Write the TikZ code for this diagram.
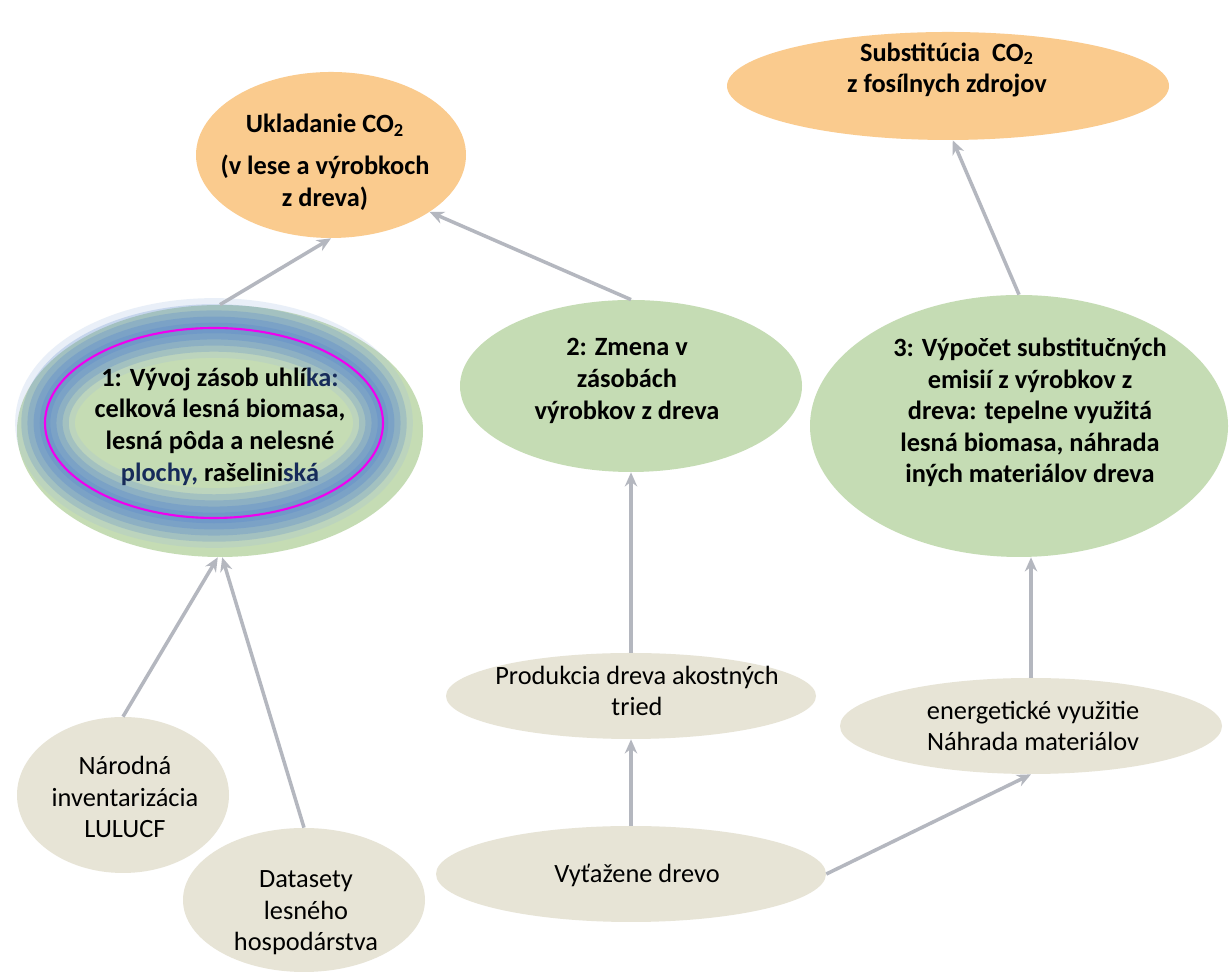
\documentclass[tikz,border=0pt]{standalone}
\usepackage{fontspec}
\setmainfont{Carlito}
\usepackage{xcolor}
\usepackage{tikz}
\usetikzlibrary{shapes.geometric,arrows.meta}
\definecolor{storeorange}{RGB}{250,203,142}
\definecolor{stockgreen}{RGB}{197,220,180}
\definecolor{sourcebeige}{RGB}{231,228,214}
\definecolor{linkgray}{RGB}{180,183,191}
\definecolor{glowblue}{RGB}{92,138,204}
\definecolor{ringmagenta}{RGB}{240,0,240}
\definecolor{navyink}{RGB}{23,43,90}

\begin{document}
\begin{tikzpicture}[
  blob/.style={ellipse, inner sep=0pt},
  title/.style={align=center, text=black, font=\fontsize{15}{18}\selectfont\bfseries},
  plain/.style={align=center, text=black, font=\fontsize{15}{18}\selectfont},
  link/.style={draw=linkgray, line width=2pt, -{Stealth[length=8pt,width=7pt]}}
]
  \fill[white] (0,0) rectangle (24.6,19.42);
  \node[blob, fill=storeorange, minimum width=5.4cm, minimum height=3.32cm] (store) at (6.62,16.32) {};
  \node[blob, fill=storeorange, minimum width=8.84cm, minimum height=2.16cm] (subst) at (18.96,17.70) {};
  \node[blob, fill=stockgreen, minimum width=8.12cm, minimum height=5.04cm] (carbon) at (4.40,10.80) {};
  \node[blob, fill=stockgreen, minimum width=6.84cm, minimum height=3.44cm] (stock) at (12.62,11.70) {};
  \node[blob, fill=stockgreen, minimum width=8.36cm, minimum height=5.24cm] (calc) at (20.38,10.90) {};
  \node[blob, fill=sourcebeige, minimum width=4.24cm, minimum height=3.12cm] (nfi) at (2.46,3.52) {};
  \node[blob, fill=sourcebeige, minimum width=4.84cm, minimum height=2.88cm] (data) at (6.08,1.42) {};
  \node[blob, fill=sourcebeige, minimum width=7.8cm, minimum height=1.92cm] (harvest) at (12.62,1.94) {};
  \node[blob, fill=sourcebeige, minimum width=7.4cm, minimum height=1.72cm] (prod) at (12.62,5.50) {};
  \node[blob, fill=sourcebeige, minimum width=7.64cm, minimum height=1.92cm] (energy) at (20.62,4.90) {};
  \draw[glowblue!60, line width=34pt, opacity=0.22] (4.28,10.96) ellipse [x radius=3.38cm, y radius=1.9cm];
  \draw[glowblue, line width=27pt, opacity=0.25] (4.28,10.96) ellipse [x radius=3.38cm, y radius=1.9cm];
  \draw[glowblue, line width=20pt, opacity=0.3] (4.28,10.96) ellipse [x radius=3.38cm, y radius=1.9cm];
  \draw[glowblue, line width=13pt, opacity=0.35] (4.28,10.96) ellipse [x radius=3.38cm, y radius=1.9cm];
  \draw[glowblue, line width=6pt, opacity=0.35] (4.28,10.96) ellipse [x radius=3.38cm, y radius=1.9cm];
  \node[blob, draw=ringmagenta, line width=1.2pt, minimum width=6.76cm, minimum height=3.8cm] (ring) at (4.28,10.96) {};
  \node[title] (storetext) at (6.50,16.18) {Ukladanie CO\textsubscript{2}\\[6pt](v lese a výrobkoch\\z dreva)};
  \node[title] (substtext) at (18.94,18.02) {Substitúcia~ CO\textsubscript{2}\\z fosílnych zdrojov};
  \node[title] (ringtext) at (4.40,10.89) {1: Vývoj zásob uhlí\textcolor{navyink}{ka:}\\celková lesná biomasa,\\lesná pôda a nelesné\\\textcolor{navyink}{plochy,} rašelini\textcolor{navyink}{ská}};
  \node[title] (stocktext) at (12.54,11.80) {2: Zmena v\\zásobách\\výrobkov z dreva};
  \node[title] (calctext) at (20.60,11.17) {3: Výpočet substitučných\\emisií z výrobkov z\\dreva: tepelne využitá\\lesná biomasa, náhrada\\iných materiálov dreva};
  \node[plain] (nfitext) at (2.50,3.48) {Národná\\inventarizácia\\LULUCF};
  \node[plain] (datatext) at (6.12,1.16) {Datasety\\lesného\\hospodárstva};
  \node[plain] (harvesttext) at (12.74,1.92) {Vyťažene drevo};
  \node[plain] (prodtext) at (12.74,5.60) {Produkcia dreva akostných\\tried};
  \node[plain] (energytext) at (20.66,4.90) {energetické využitie\\Náhrada materiálov};
  \draw[link] (carbon.north) -- (store.south);
  \draw[link] (stock.north) -- (store.-30);
  \draw[link] (calc.north) -- (subst.-85);
  \draw[link] (nfi.north) -- (carbon.-91);
  \draw[link] (data.north) -- (carbon.-89);
  \draw[link] (prod.north) -- (stock.south);
  \draw[link] (harvest.north) -- (prod.south);
  \draw[link] (harvest.east) -- (energy.south);
  \draw[link] (energy.north) -- (energy.north |- calc.south);
\end{tikzpicture}
\end{document}
